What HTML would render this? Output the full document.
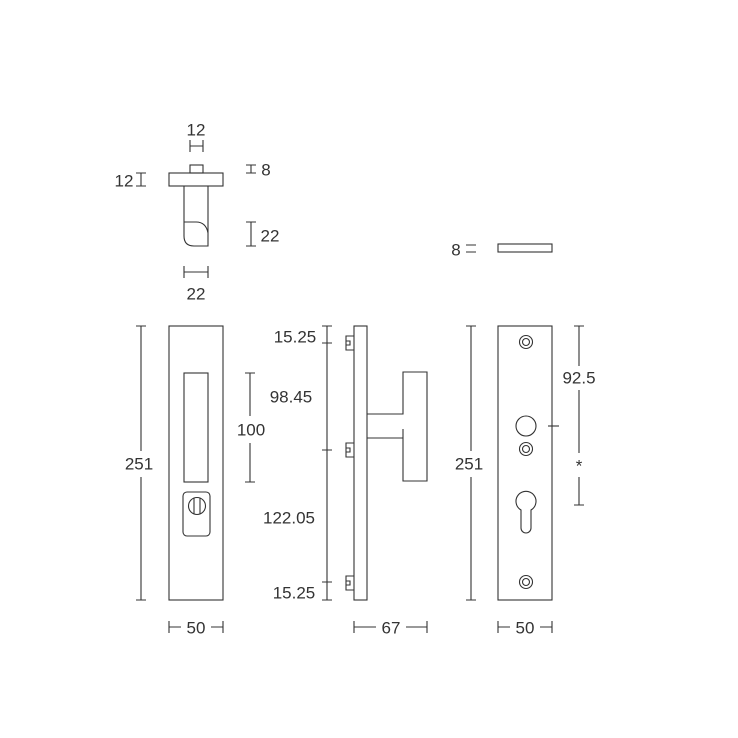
<!DOCTYPE html>
<html><head><style>body{margin:0;background:#fff}svg{display:block}text{font-family:"Liberation Sans",sans-serif;font-size:17px;fill:#333;text-anchor:middle;dominant-baseline:central}</style></head><body>
<svg width="738" height="738" viewBox="0 0 738 738" fill="none" stroke="#333" stroke-width="1.1">
<!-- top view -->
<rect x="169" y="173" width="54" height="13"/>
<rect x="190" y="165" width="13" height="8"/>
<path d="M184 186 V236 Q184 246 194 246 H208 V186 M208 233 Q206 222 196 222 H184"/>
<path d="M190 140v12M203 140v12M190 146h13"/>
<path d="M136 173h10M136 186h10M141 173v13"/>
<path d="M246 165h10M246 173h10M251 165v8"/>
<path d="M246 222h10M246 246h10M251 222v24"/>
<path d="M184 266v12M208 266v12M184 272h24"/>
<!-- small plate -->
<rect x="498" y="244" width="54" height="8"/>
<path d="M466 245h10M466 252h10"/>
<!-- front -->
<rect x="169" y="326" width="54" height="274"/>
<rect x="184" y="373" width="24" height="109"/>
<rect x="183" y="492" width="27" height="44" rx="4"/>
<circle cx="197" cy="506" r="8.5"/>
<path d="M194 498v16M200 498v16"/>
<path d="M136 326h10M136 600h10M141 326v125M141 477v123"/>
<path d="M245 373h10M245 482h10M250 373v43M250 443v39"/>
<path d="M169 621v12M223 621v12M169 627h12M211 627h12"/>
<!-- side -->
<rect x="354" y="326" width="13" height="274"/>
<path d="M354 336h-8v14h8M346 341h4v4h-4M354 443h-8v14h8M346 448h4v4h-4M354 576h-8v14h8M346 581h4v4h-4"/>
<path d="M367 414H403V372H427V481H403V429M367 438H403"/>
<path d="M322 326h10M322 600h10M327 326v274M322 343h10M322 450h10M322 582h10"/>
<path d="M354 621v12M427 621v12M354 627h22M406 627h21"/>
<!-- back plate -->
<rect x="498" y="326" width="54" height="274"/>
<circle cx="526" cy="342" r="6.5"/><circle cx="526" cy="342" r="3.5"/>
<circle cx="526" cy="449" r="6.5"/><circle cx="526" cy="449" r="3.5"/>
<circle cx="526" cy="582" r="6.5"/><circle cx="526" cy="582" r="3.5"/>
<circle cx="526" cy="426" r="10"/>
<path d="M548 426h11"/>
<path d="M521 510 A10 10 0 1 1 531 510 V528 A5 5 0 0 1 521 528 Z"/>
<path d="M466 326h10M466 600h10M471 326v125M471 477v123"/>
<path d="M574 326h10M574 505h10M579 326v40M579 390v63M579 477v28"/>
<path d="M498 621v12M552 621v12M498 627h12M540 627h12"/>
<g stroke="none">
<text x="196" y="130">12</text><text x="124" y="181">12</text><text x="266" y="170">8</text>
<text x="270" y="236">22</text><text x="196" y="294">22</text><text x="456" y="250">8</text>
<text x="139" y="464">251</text><text x="251" y="430">100</text><text x="196" y="628">50</text>
<text x="295" y="337">15.25</text><text x="291" y="397">98.45</text><text x="289" y="518">122.05</text><text x="294" y="593">15.25</text>
<text x="391" y="628">67</text><text x="469" y="464">251</text><text x="579" y="378">92.5</text><text x="579" y="466">*</text><text x="525" y="628">50</text>
</g>
</svg></body></html>
